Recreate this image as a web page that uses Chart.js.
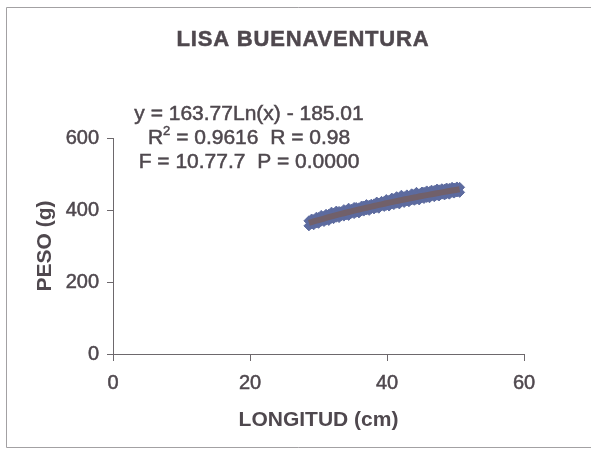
<!DOCTYPE html>
<html>
<head>
<meta charset="utf-8">
<script src="https://cdn.jsdelivr.net/npm/chart.js@4.4.1/dist/chart.umd.min.js"></script>
<style>
  html, body { margin: 0; padding: 0; background: #ffffff; }
  #wrap { position: relative; width: 591px; height: 453px; }
  canvas { display: block; }
</style>
</head>
<body>
<div id="wrap"><canvas id="c" width="591" height="453"></canvas></div>
<script>
// Lisa (Buenaventura): length-weight sample, logarithmic fit
const lengths = [28.6, 29.0, 29.3, 29.7, 30.0, 30.4, 30.8, 31.1, 31.5, 31.9, 32.2, 32.6, 33.0, 33.3, 33.7,
  34.1, 34.4, 34.8, 35.2, 35.5, 35.9, 36.3, 36.6, 37.0, 37.4, 37.7, 38.1, 38.5, 38.8, 39.2, 39.6, 39.9,
  40.3, 40.7, 41.0, 41.4, 41.8, 42.1, 42.5, 42.9, 43.2, 43.6, 44.0, 44.3, 44.7, 45.1, 45.4, 45.8, 46.2,
  46.5, 46.9, 47.3, 47.6, 48.0, 48.4, 48.7, 49.1, 49.5, 49.8, 50.2, 50.6];
const weightsA = [370, 375, 373, 380, 379, 385, 382, 388, 388, 394, 391, 397, 396, 395, 401,
  400, 405, 402, 407, 407, 406, 411, 411, 415, 413, 416, 417, 422, 419, 424, 424, 429,
  427, 433, 431, 437, 435, 441, 437, 442, 439, 445, 444, 449, 445, 450, 449, 453, 451,
  455, 454, 458, 456, 459, 458, 461, 460, 463, 461, 464, 463];
const weightsB = [356, 361, 359, 364, 363, 369, 368, 372, 371, 377, 376, 380, 379, 384, 383,
  387, 385, 391, 390, 394, 392, 398, 397, 400, 399, 404, 403, 407, 405, 411, 410, 413,
  411, 417, 415, 419, 417, 423, 421, 425, 423, 428, 427, 430, 428, 434, 432, 435, 434,
  439, 437, 441, 439, 444, 442, 445, 444, 449, 447, 450, 449];

// fitted model y = a*Ln(x) + b
const fitA = 163.77;
const fitB = -185.01;
const statLines = ['y = 163.77Ln(x) - 185.01', 'R2 = 0.9616  R = 0.98', 'F = 10.77.7  P = 0.0000'];

const xTicks = [0, 20, 40, 60];
const yTicks = [0, 200, 400, 600];

const ink = '#4f484e';
const axisInk = '#6d686c';
const FONT = "'Liberation Sans', Arial, sans-serif";

const toPoints = (xs, ys) => xs.map((x, i) => ({ x: x, y: ys[i] }));
const fitPoints = lengths.map(x => ({ x: x, y: fitA * Math.log(x) + fitB }));

// fill + thin stroke of the same ink gives the printed, slightly heavy look
function inkText(c, s, x, y) {
  c.fillText(s, x, y);
  c.strokeText(s, x, y);
}

const decor = {
  id: 'decor',
  beforeDraw(chart) {
    const c = chart.ctx;
    c.save();
    c.fillStyle = '#ffffff';
    c.fillRect(0, 0, chart.width, chart.height);
    // outer frame
    c.strokeStyle = '#a3a1a3';
    c.lineWidth = 1;
    c.beginPath();
    c.moveTo(591, 7.5); c.lineTo(6.5, 7.5); c.lineTo(6.5, 447.5); c.lineTo(591, 447.5);
    c.stroke();
    c.restore();
  },
  afterDraw(chart) {
    const c = chart.ctx;
    c.save();
    c.fillStyle = ink;
    c.strokeStyle = ink;
    c.lineWidth = 0.5;
    c.textBaseline = 'middle';
    c.textAlign = 'center';
    // title
    c.font = 'bold 22px ' + FONT;
    if ('letterSpacing' in c) c.letterSpacing = '0.8px';
    inkText(c, 'LISA BUENAVENTURA', 303, 40);
    if ('letterSpacing' in c) c.letterSpacing = '0px';

    // regression statistics
    const cx = 249;
    const ys = [114, 138, 162];
    c.font = '21px ' + FONT;
    inkText(c, statLines[0], cx, ys[0]);
    inkText(c, statLines[2], cx, ys[2]);
    // second line with superscript
    const head = 'R';
    const sup = '2';
    const tail = statLines[1].slice(2);
    c.font = '21px ' + FONT;
    const wHead = c.measureText(head).width;
    const wTail = c.measureText(tail).width;
    c.font = '13px ' + FONT;
    const wSup = c.measureText(sup).width;
    let x0 = cx - (wHead + wSup + wTail) / 2;
    c.textAlign = 'left';
    c.font = '21px ' + FONT;
    inkText(c, head, x0, ys[1]);
    c.font = '13px ' + FONT;
    inkText(c, sup, x0 + wHead, ys[1] - 7);
    c.font = '21px ' + FONT;
    inkText(c, tail, x0 + wHead + wSup, ys[1]);
    c.restore();
  }
};

const markerStyle = {
  pointStyle: 'rectRot',
  pointRadius: 5,
  pointBackgroundColor: '#5d6b9f',
  pointBorderColor: '#5d6b9f',
  pointBorderWidth: 1,
  showLine: false,
  order: 2
};

new Chart(document.getElementById('c'), {
  type: 'scatter',
  data: {
    datasets: [
      {
        type: 'line',
        label: 'Log. fit',
        data: fitPoints,
        borderColor: '#71606a',
        borderWidth: 6,
        pointRadius: 0,
        fill: false,
        tension: 0,
        order: 0
      },
      Object.assign({ label: 'Peso', data: toPoints(lengths, weightsA) }, markerStyle),
      Object.assign({ label: 'Peso ', data: toPoints(lengths, weightsB) }, markerStyle)
    ]
  },
  options: {
    responsive: false,
    animation: false,
    events: [],
    layout: { padding: { left: 0, top: 138, right: 67, bottom: 0 } },
    plugins: { legend: { display: false }, tooltip: { enabled: false }, title: { display: false } },
    scales: {
      x: {
        type: 'linear',
        min: 0, max: 60,
        afterBuildTicks(s) { s.ticks = xTicks.map(v => ({ value: v })); },
        afterFit(s) { s.height = 99; },
        ticks: { color: ink, font: { family: FONT, size: 20 }, padding: 10, maxRotation: 0,
                 textStrokeColor: ink, textStrokeWidth: 0.5 },
        grid: { drawOnChartArea: false, drawTicks: true, tickLength: 7, color: axisInk },
        border: { display: true, color: axisInk, width: 1 },
        title: {
          display: true, text: 'LONGITUD (cm)', color: ink,
          font: { family: FONT, size: 21, weight: 'bold' },
          padding: { top: 0, bottom: 20 }
        }
      },
      y: {
        type: 'linear',
        min: 0, max: 600,
        afterBuildTicks(s) { s.ticks = yTicks.map(v => ({ value: v })); },
        afterFit(s) { s.width = 113; },
        ticks: { color: ink, font: { family: FONT, size: 20 }, padding: 8,
                 textStrokeColor: ink, textStrokeWidth: 0.5 },
        grid: { drawOnChartArea: false, drawTicks: true, tickLength: 6, color: axisInk },
        border: { display: true, color: axisInk, width: 1 },
        title: {
          display: true, text: 'PESO (g)', color: ink,
          font: { family: FONT, size: 21, weight: 'bold' },
          padding: { top: 33, bottom: 0 }
        }
      }
    }
  },
  plugins: [decor]
});
</script>
</body>
</html>
